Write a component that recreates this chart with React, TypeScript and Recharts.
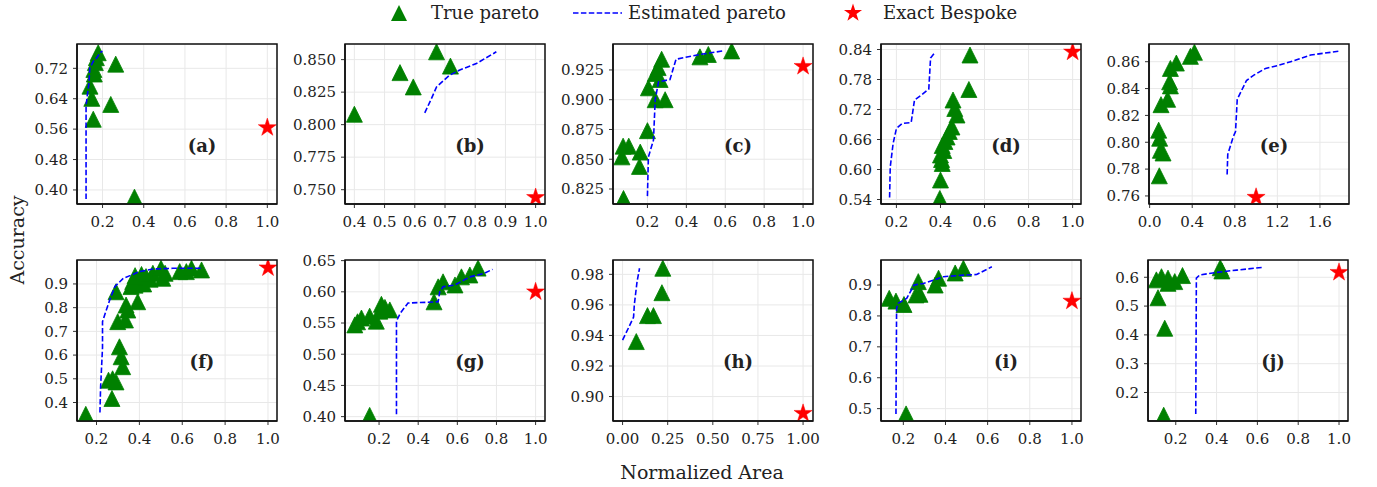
import { CartesianGrid, Scatter, ScatterChart, XAxis, YAxis } from "recharts"

type Pt = [number, number]

// (a)
const aTrue: Pt[] = [
  [0.179, 0.761], [0.17, 0.748], [0.165, 0.735], [0.158, 0.717], [0.16, 0.705],
  [0.139, 0.673], [0.148, 0.641], [0.155, 0.586], [0.264, 0.731], [0.24, 0.625], [0.355, 0.381],
]
const aEst: Pt[] = [
  [0.12, 0.376], [0.12, 0.62], [0.125, 0.645], [0.134, 0.68], [0.138, 0.72],
  [0.155, 0.738], [0.172, 0.748], [0.19, 0.762], [0.2, 0.765],
]
const aExact: Pt[] = [[1.0, 0.564]]

// (b)
const bTrue: Pt[] = [[0.4, 0.808], [0.551, 0.84], [0.595, 0.829], [0.672, 0.856], [0.718, 0.845]]
const bEst: Pt[] = [
  [0.633, 0.809], [0.655, 0.82], [0.672, 0.829], [0.715, 0.838], [0.749, 0.842], [0.804, 0.847], [0.87, 0.856],
]
const bExact: Pt[] = [[1.0, 0.744]]

// (c)
const cTrue: Pt[] = [
  [0.077, 0.817], [0.069, 0.852], [0.075, 0.861], [0.104, 0.861], [0.163, 0.856], [0.159, 0.844],
  [0.2, 0.874], [0.205, 0.91], [0.24, 0.9], [0.291, 0.9], [0.24, 0.922], [0.265, 0.917],
  [0.273, 0.934], [0.255, 0.927], [0.47, 0.936], [0.513, 0.938], [0.633, 0.941],
]
const cEst: Pt[] = [
  [0.2, 0.819], [0.205, 0.852], [0.231, 0.866], [0.24, 0.9], [0.257, 0.915],
  [0.316, 0.917], [0.347, 0.934], [0.47, 0.938], [0.588, 0.941],
]
const cExact: Pt[] = [[1.0, 0.928]]

// (d)
const dTrue: Pt[] = [
  [0.534, 0.829], [0.529, 0.76], [0.457, 0.739], [0.465, 0.722], [0.475, 0.709], [0.452, 0.685],
  [0.44, 0.676], [0.43, 0.665], [0.42, 0.656], [0.408, 0.648], [0.415, 0.638], [0.4, 0.629],
  [0.405, 0.62], [0.408, 0.612], [0.4, 0.579], [0.397, 0.542],
]
const dEst: Pt[] = [
  [0.169, 0.544], [0.172, 0.605], [0.185, 0.652], [0.2, 0.682], [0.226, 0.692], [0.267, 0.694],
  [0.282, 0.739], [0.317, 0.75], [0.347, 0.761], [0.355, 0.823], [0.373, 0.833],
]
const dExact: Pt[] = [[1.0, 0.835]]

// (e)
const eTrue: Pt[] = [
  [0.421, 0.867], [0.383, 0.864], [0.251, 0.859], [0.195, 0.855], [0.188, 0.845], [0.195, 0.842],
  [0.169, 0.832], [0.107, 0.828], [0.085, 0.809], [0.094, 0.803], [0.101, 0.794], [0.126, 0.792], [0.091, 0.775],
]
const eEst: Pt[] = [
  [0.728, 0.776], [0.734, 0.791], [0.785, 0.804], [0.807, 0.808], [0.823, 0.832], [0.91, 0.846],
  [0.979, 0.85], [1.089, 0.855], [1.199, 0.857], [1.324, 0.86], [1.402, 0.862], [1.512, 0.865], [1.795, 0.868],
]
const eExact: Pt[] = [[1.0, 0.759]]

// (f)
const fTrue: Pt[] = [
  [0.15, 0.35], [0.272, 0.417], [0.256, 0.494], [0.291, 0.487], [0.275, 0.5], [0.322, 0.551],
  [0.315, 0.593], [0.307, 0.635], [0.299, 0.741], [0.335, 0.748], [0.346, 0.79], [0.338, 0.811],
  [0.392, 0.825], [0.291, 0.867], [0.361, 0.889], [0.369, 0.91], [0.4, 0.917], [0.38, 0.895],
  [0.42, 0.9], [0.431, 0.931], [0.45, 0.92], [0.463, 0.945], [0.509, 0.924], [0.501, 0.966],
  [0.52, 0.945], [0.588, 0.952], [0.619, 0.952], [0.643, 0.966], [0.69, 0.959], [0.41, 0.94], [0.38, 0.935],
]
const fEst: Pt[] = [
  [0.216, 0.358], [0.219, 0.463], [0.228, 0.631], [0.228, 0.741], [0.243, 0.783], [0.262, 0.833],
  [0.286, 0.889], [0.325, 0.924], [0.364, 0.938], [0.4, 0.952], [0.463, 0.963], [0.556, 0.966], [0.688, 0.966],
]
const fExact: Pt[] = [[1.0, 0.968]]

// (g)
const gTrue: Pt[] = [
  [0.076, 0.547], [0.09, 0.552], [0.11, 0.558], [0.152, 0.561], [0.186, 0.553], [0.212, 0.58],
  [0.204, 0.569], [0.23, 0.575], [0.255, 0.571], [0.152, 0.402], [0.481, 0.584], [0.502, 0.608],
  [0.527, 0.616], [0.588, 0.611], [0.621, 0.624], [0.664, 0.627], [0.706, 0.638],
]
const gEst: Pt[] = [
  [0.289, 0.404], [0.289, 0.553], [0.309, 0.566], [0.348, 0.582], [0.502, 0.584], [0.51, 0.6],
  [0.527, 0.608], [0.587, 0.611], [0.664, 0.624], [0.732, 0.629], [0.78, 0.636],
]
const gExact: Pt[] = [[1.0, 0.6]]

// (h)
const hTrue: Pt[] = [[0.223, 0.984], [0.218, 0.968], [0.138, 0.953], [0.171, 0.953], [0.076, 0.936]]
const hEst: Pt[] = [[0.0, 0.937], [0.033, 0.945], [0.061, 0.952], [0.065, 0.96], [0.08, 0.975], [0.094, 0.984]]
const hExact: Pt[] = [[1.0, 0.889]]

// (i)
const iTrue: Pt[] = [
  [0.133, 0.857], [0.165, 0.848], [0.203, 0.837], [0.213, 0.483], [0.26, 0.868], [0.279, 0.87],
  [0.271, 0.911], [0.351, 0.9], [0.367, 0.922], [0.446, 0.939], [0.485, 0.954],
]
const iEst: Pt[] = [
  [0.165, 0.483], [0.168, 0.825], [0.176, 0.841], [0.216, 0.857], [0.251, 0.9], [0.295, 0.905],
  [0.39, 0.927], [0.485, 0.932], [0.548, 0.934], [0.62, 0.959],
]
const iExact: Pt[] = [[1.0, 0.848]]

// (j)
const jTrue: Pt[] = [
  [0.141, 0.121], [0.146, 0.423], [0.113, 0.529], [0.105, 0.591], [0.13, 0.602], [0.162, 0.597],
  [0.162, 0.579], [0.195, 0.585], [0.233, 0.606], [0.418, 0.633], [0.426, 0.622],
]
const jEst: Pt[] = [
  [0.298, 0.125], [0.301, 0.597], [0.317, 0.608], [0.4, 0.617], [0.498, 0.625], [0.621, 0.634],
]
const jExact: Pt[] = [[1.0, 0.617]]

const xTicks10 = [0.2, 0.4, 0.6, 0.8, 1.0]
const xTicksB = [0.4, 0.5, 0.6, 0.7, 0.8, 0.9, 1.0]
const xTicksE = [0.0, 0.4, 0.8, 1.2, 1.6]
const xTicksH = [0.0, 0.25, 0.5, 0.75, 1.0]

const panels = [
  { tag: "(a)", t: aTrue, e: aEst, x: aExact, xd: [0.076, 1.047], yd: [0.363, 0.784], xt: xTicks10, yt: [0.4, 0.48, 0.56, 0.64, 0.72], xf: 1, yf: 2, left: 77, top: 44, h: 160 },
  { tag: "(b)", t: bTrue, e: bEst, x: bExact, xd: [0.369, 1.031], yd: [0.739, 0.862], xt: xTicksB, yt: [0.75, 0.775, 0.8, 0.825, 0.85], xf: 1, yf: 3, left: 345, top: 44, h: 160 },
  { tag: "(c)", t: cTrue, e: cEst, x: cExact, xd: [0.023, 1.051], yd: [0.8124, 0.9468], xt: xTicks10, yt: [0.825, 0.85, 0.875, 0.9, 0.925], xf: 1, yf: 3, left: 613, top: 44, h: 160 },
  { tag: "(d)", t: dTrue, e: dEst, x: dExact, xd: [0.13, 1.038], yd: [0.531, 0.851], xt: xTicks10, yt: [0.54, 0.6, 0.66, 0.72, 0.78, 0.84], xf: 1, yf: 2, left: 881, top: 44, h: 160 },
  { tag: "(e)", t: eTrue, e: eEst, x: eExact, xd: [-0.006, 1.873], yd: [0.754, 0.8732], xt: xTicksE, yt: [0.76, 0.78, 0.8, 0.82, 0.84, 0.86], xf: 1, yf: 2, left: 1149, top: 44, h: 160 },
  { tag: "(f)", t: fTrue, e: fEst, x: fExact, xd: [0.109, 1.042], yd: [0.322, 1.001], xt: xTicks10, yt: [0.4, 0.5, 0.6, 0.7, 0.8, 0.9], xf: 1, yf: 1, left: 77, top: 260, h: 161 },
  { tag: "(g)", t: gTrue, e: gEst, x: gExact, xd: [0.026, 1.048], yd: [0.393, 0.651], xt: xTicks10, yt: [0.4, 0.45, 0.5, 0.55, 0.6, 0.65], xf: 1, yf: 2, left: 345, top: 260, h: 161 },
  { tag: "(h)", t: hTrue, e: hEst, x: hExact, xd: [-0.053, 1.055], yd: [0.884, 0.9894], xt: xTicksH, yt: [0.9, 0.92, 0.94, 0.96, 0.98], xf: 2, yf: 2, left: 613, top: 260, h: 161 },
  { tag: "(i)", t: iTrue, e: iEst, x: iExact, xd: [0.094, 1.043], yd: [0.46, 0.981], xt: xTicks10, yt: [0.5, 0.6, 0.7, 0.8, 0.9], xf: 1, yf: 1, left: 881, top: 260, h: 161 },
  { tag: "(j)", t: jTrue, e: jEst, x: jExact, xd: [0.064, 1.044], yd: [0.101, 0.66], xt: xTicks10, yt: [0.2, 0.3, 0.4, 0.5, 0.6], xf: 1, yf: 1, left: 1148, top: 260, h: 161 },
]

const FONT = "'DejaVu Serif', serif"
const GREEN = "#008000"
const BLUE = "#0000ff"
const RED = "#ff0000"
const FRAME = "#111"
const YW = 60
const TM = 10
const RM = 8
const XH = 30
const PW = 200

const toObj = (pts: Pt[]) => pts.map(([x, y]) => ({ x, y }))

function starPoints(cx: number, cy: number, R: number) {
  const r = R * 0.382
  const pts: string[] = []
  for (let k = 0; k < 10; k++) {
    const rad = k % 2 === 0 ? R : r
    const ang = -Math.PI / 2 + (k * Math.PI) / 5
    pts.push(`${cx + rad * Math.cos(ang)},${cy + rad * Math.sin(ang)}`)
  }
  return pts.join(" ")
}

const Triangle = (p: any) => {
  const { cx, cy } = p
  const r = 8
  return (
    <polygon
      points={`${cx},${cy - r} ${cx - r},${cy + r} ${cx + r},${cy + r}`}
      fill={GREEN}
      stroke={GREEN}
      strokeWidth={0.8}
    />
  )
}

const Star = (p: any) => <polygon points={starPoints(p.cx, p.cy, 9.5)} fill={RED} stroke={RED} strokeWidth={0.5} />

const Nothing = () => <g />

function Panel({ p }: { p: (typeof panels)[number] }) {
  const tick = { fill: "#222", fontSize: 15, fontFamily: FONT }
  const w = YW + PW + RM
  const h = TM + p.h + XH
  return (
    <div style={{ position: "absolute", left: p.left - YW, top: p.top - TM, width: w, height: h }}>
      <ScatterChart width={w} height={h} margin={{ top: TM, right: RM, left: 0, bottom: 0 }}>
        <CartesianGrid stroke="#e8e8e8" strokeWidth={1} />
        <XAxis
          type="number"
          dataKey="x"
          domain={p.xd}
          allowDataOverflow
          ticks={p.xt}
          interval={0}
          tickFormatter={(v: number) => v.toFixed(p.xf)}
          tick={tick}
          tickSize={4}
          tickMargin={8}
          tickLine={{ stroke: "#333" }}
          axisLine={{ stroke: FRAME, strokeWidth: 1.5 }}
          height={XH}
        />
        <YAxis
          type="number"
          dataKey="y"
          domain={p.yd}
          allowDataOverflow
          ticks={p.yt}
          interval={0}
          tickFormatter={(v: number) => v.toFixed(p.yf)}
          tick={tick}
          tickSize={4}
          tickMargin={5}
          tickLine={{ stroke: "#333" }}
          axisLine={{ stroke: FRAME, strokeWidth: 1.5 }}
          width={YW}
        />
        <Scatter data={toObj(p.t)} shape={Triangle} isAnimationActive={false} />
        <Scatter
          data={toObj(p.e)}
          shape={Nothing}
          line={{ stroke: BLUE, strokeWidth: 1.6, strokeDasharray: "5.5 2.4" }}
          lineType="joint"
          isAnimationActive={false}
        />
        <Scatter data={toObj(p.x)} shape={Star} isAnimationActive={false} />
      </ScatterChart>
      <svg style={{ position: "absolute", left: 0, top: 0, zIndex: 5, pointerEvents: "none" }} width={w} height={h}>
        <rect x={YW} y={TM} width={PW} height={p.h} fill="none" stroke={FRAME} strokeWidth={1.5} />
      </svg>
      <div
        style={{
          position: "absolute",
          left: YW + 125,
          top: TM + 101,
          transform: "translate(-50%, -50%)",
          fontFamily: FONT,
          fontWeight: "bold",
          fontSize: 18,
          color: "#222",
          whiteSpace: "nowrap",
          zIndex: 6,
        }}
      >
        {p.tag}
      </div>
    </div>
  )
}

const legendText = { position: "absolute" as const, top: 1, fontFamily: FONT, fontSize: 18, color: "#222", lineHeight: "24px", whiteSpace: "nowrap" as const }

export default function App() {
  return (
    <div style={{ position: "absolute", left: 0, top: 0, width: 1377, height: 487, background: "#fff", overflow: "hidden" }}>
      <svg style={{ position: "absolute", left: 0, top: 0 }} width={1000} height={28}>
        <polygon points="399,5 391,21 407,21" fill={GREEN} />
        <line x1={573} y1={13} x2={622} y2={13} stroke={BLUE} strokeWidth={1.6} strokeDasharray="5.5 2.4" />
        <polygon points={starPoints(853, 13, 9.5)} fill={RED} />
      </svg>
      <div style={{ ...legendText, left: 431 }}>True pareto</div>
      <div style={{ ...legendText, left: 628 }}>Estimated pareto</div>
      <div style={{ ...legendText, left: 883 }}>Exact Bespoke</div>
      {panels.map((p) => (
        <Panel key={p.tag} p={p} />
      ))}
      <div
        style={{
          position: "absolute",
          left: 17,
          top: 240,
          transform: "translate(-50%, -50%) rotate(-90deg)",
          fontFamily: FONT,
          fontSize: 19,
          color: "#222",
          whiteSpace: "nowrap",
        }}
      >
        Accuracy
      </div>
      <div
        style={{
          position: "absolute",
          left: 702,
          top: 472,
          transform: "translate(-50%, -50%)",
          fontFamily: FONT,
          fontSize: 19,
          color: "#222",
          whiteSpace: "nowrap",
        }}
      >
        Normalized Area
      </div>
    </div>
  )
}
